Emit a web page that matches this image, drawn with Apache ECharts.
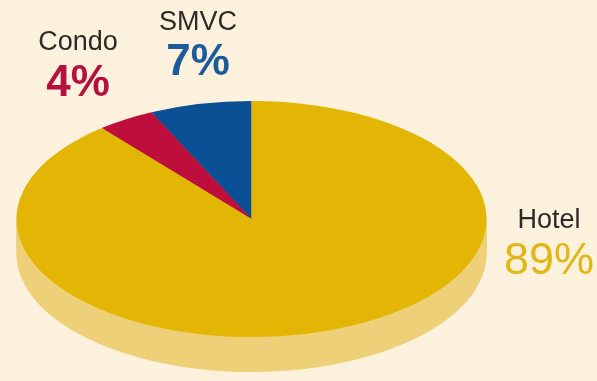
<!DOCTYPE html>
<html>
<head>
<meta charset="utf-8">
<script src="https://cdn.jsdelivr.net/npm/echarts@6/dist/echarts.min.js"></script>
<style>
  html, body { margin: 0; padding: 0; background: #fcf1dc; overflow: hidden; }
  #stage { position: relative; width: 597px; height: 381px; }
  /* the pie is drawn as a circle and flattened into a tilted disc */
  #pie { position: absolute; left: 0; top: 0; width: 597px; height: 759px;
         transform: scaleY(0.5021); transform-origin: 0 0; }
  #labels { position: absolute; left: 0; top: 0; width: 597px; height: 381px; }
</style>
</head>
<body>
<div id="stage">
  <div id="pie"></div>
  <div id="labels"></div>
</div>
<script>
// Share of units by type (percent), listed counter-clockwise from 12 o'clock
const categories = ['SMVC', 'Condo', 'Hotel'];
const shares = [7, 4, 89];

const topColors  = { SMVC: '#0b4f95', Condo: '#be0e3b', Hotel: '#e3b505' };
const sideColors = { SMVC: '#5a7fae', Condo: '#d2708a', Hotel: '#eed078' };
const nameColor  = '#2b2a26';
const valueColors = { SMVC: '#1b5b9b', Condo: '#b3123e', Hotel: '#e2b614' };

// disc geometry (in unflattened pixels)
const FLAT = 0.5021;
const CX = 251.5, CY = 219 / FLAT, R = 235, DEPTH = 35 / FLAT;

function pieData(colorMap) {
  return categories.map((c, i) => ({
    name: c, value: shares[i], itemStyle: { color: colorMap[c] }
  }));
}

const base = {
  type: 'pie', radius: R, startAngle: 90, clockwise: false,
  label: { show: false }, labelLine: { show: false },
  emphasis: { disabled: true }, silent: true, animation: false,
  itemStyle: { borderWidth: 0 }
};

// rim: copies of the disc stepped downward, lighter tint
const series = [];
const steps = 12;
for (let s = steps; s >= 1; s--) {
  series.push(Object.assign({}, base, {
    center: [CX, CY + DEPTH * s / steps], z: 1, data: pieData(sideColors)
  }));
}
// top face
series.push(Object.assign({}, base, { center: [CX, CY], z: 2, data: pieData(topColors) }));

const pie = echarts.init(document.getElementById('pie'), null,
  { renderer: 'svg', width: 597, height: 759 });
pie.setOption({ backgroundColor: 'transparent', animation: false, series });

// label placement per category: [x, nameY, valueY]
const labelPos = {
  Condo: [78, 43, 84],
  SMVC:  [198, 22.5, 62.5],
  Hotel: [549, 221, 262]
};
const valueWeight = { Condo: 'bold', SMVC: 'bold', Hotel: 'normal' };
const valueSize = { Condo: 44, SMVC: 44, Hotel: 45 };

const graphics = [];
categories.forEach((c, i) => {
  const [x, ny, vy] = labelPos[c];
  graphics.push({
    type: 'text', x: x, y: ny,
    style: { text: c, fill: nameColor, font: '27px "Liberation Sans", Arial, sans-serif',
             textAlign: 'center', textVerticalAlign: 'middle' }
  });
  graphics.push({
    type: 'text', x: x, y: vy,
    style: { text: shares[i] + '%', fill: valueColors[c],
             font: valueWeight[c] + ' ' + valueSize[c] + 'px "Liberation Sans", Arial, sans-serif',
             textAlign: 'center', textVerticalAlign: 'middle' }
  });
});

const labels = echarts.init(document.getElementById('labels'), null, { width: 597, height: 381 });
labels.setOption({ backgroundColor: 'transparent', animation: false, graphic: graphics });
</script>
</body>
</html>
